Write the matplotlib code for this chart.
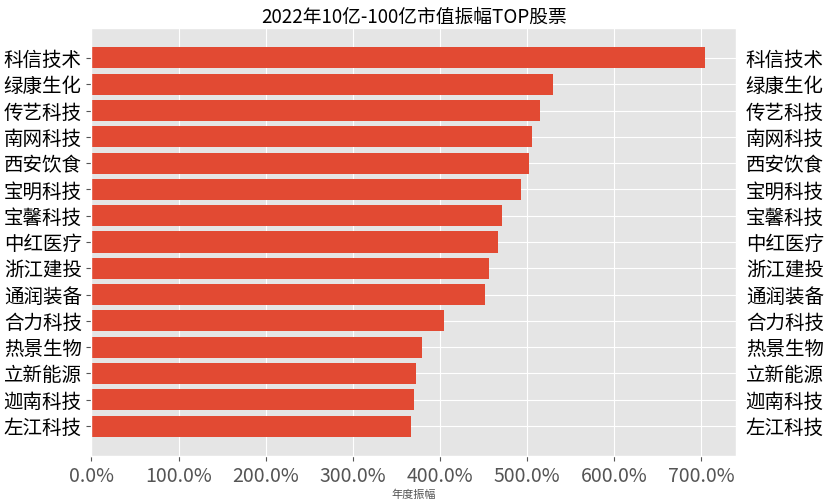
import matplotlib
matplotlib.use('Agg')
import matplotlib.pyplot as plt
from matplotlib.ticker import PercentFormatter

plt.style.use('ggplot')
plt.rcParams['font.family'] = ['Noto Sans CJK SC', 'DejaVu Sans']
plt.rcParams['axes.unicode_minus'] = False

# 股票名称与年度振幅(%)
names = ['科信技术', '绿康生化', '传艺科技', '南网科技', '西安饮食',
         '宝明科技', '宝馨科技', '中红医疗', '浙江建投', '通润装备',
         '合力科技', '热景生物', '立新能源', '迦南科技', '左江科技']
amplitude = [705, 530, 515, 506, 502,
             493, 471, 467, 457, 452,
             405, 379, 373, 370, 367]

fig = plt.figure(figsize=(8.28, 5), dpi=100)
ax = fig.add_axes([0.1105, 0.088, 0.7785, 0.856])

ax.barh(names[::-1], amplitude[::-1], height=0.8, color='#E24A33')

ax.xaxis.set_major_formatter(PercentFormatter(decimals=1))
ax.tick_params(axis='y', labelsize=14, labelright=True, colors='#555555')
ax.tick_params(axis='x', labelsize=14)
for lab in ax.get_yticklabels():
    lab.set_color('black')
for lab in ax.get_xticklabels():
    lab.set_color('#555555')

ax.set_xlabel('年度振幅', fontsize=8, color='#555555', labelpad=2)
ax.set_title('2022年10亿-100亿市值振幅TOP股票', fontsize=13.5, pad=4)

fig.savefig('out.png', dpi=100)
